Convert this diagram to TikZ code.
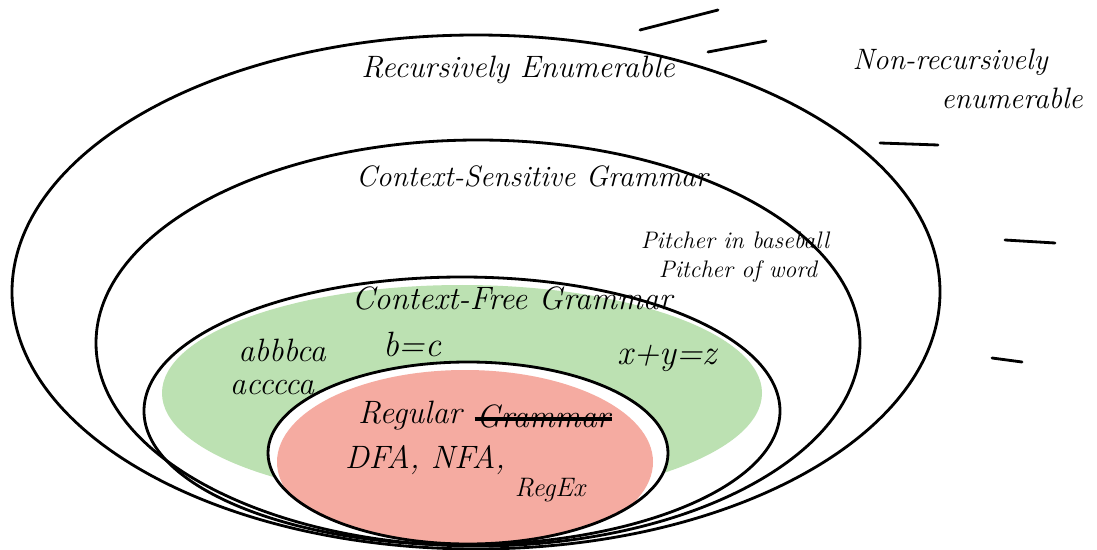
\documentclass[tikz,border=0pt]{standalone}
\usepackage{tikz}
\usetikzlibrary{positioning}
\definecolor{cfgreen}{HTML}{BCE1B2}
\definecolor{regred}{HTML}{F5ABA1}
\tikzset{
  rim/.style={draw=black,line width=2pt},
  note/.style={font=\fontsize{#1}{#1}\selectfont\itshape,inner sep=1pt},
  note/.default=22,
  tick/.style={line width=2pt,line cap=round}
}
\def\outer{(476,292) ellipse [x radius=464, y radius=257]}
\def\csg{(478,343) ellipse [x radius=382, y radius=203]}
\def\cfg{(462,411) ellipse [x radius=318, y radius=134]}
\def\reg{(468,453) ellipse [x radius=200, y radius=91]}

\begin{document}
\begin{tikzpicture}[x=0.025cm,y=-0.025cm]
  \clip (0,0) rectangle (1097,550);
  \fill[white] (0,0) rectangle (1097,550);
  % shading
  \begin{scope}
    \clip \cfg;
    \fill[cfgreen] (462,393) ellipse [x radius=300, y radius=108];
  \end{scope}
  \fill[white] \reg;
  \begin{scope}
    \clip \reg;
    \fill[regred] (465,462) ellipse [x radius=188, y radius=92];
  \end{scope}
  % sets
  \draw[rim] \outer;
  \draw[rim] \csg;
  \draw[rim] \cfg;
  \draw[rim] \reg;
  % outside marks
  \draw[tick] (640,30) -- (718,10);
  \draw[tick] (708,52) -- (766,41);
  \draw[tick] (880,143) -- (938,145);
  \draw[tick] (1005,240) -- (1055,243);
  \draw[tick] (992,358) -- (1022,362);
  % labels
  \node[note] (re) at (518,70) {Recursively Enumerable};
  \node[note=21] (nonre) at (950,62) {Non-recursively};
  \node[note=21] (nonre2) at (1012,98) {enumerable};
  \node[note=21] (cs) at (532,176) {Context-Sensitive Grammar};
  \node[note=17] (pitch1) at (735,240) {Pitcher in baseball};
  \node[note=17] (pitch2) at (738,272) {Pitcher of word};
  \node[note=23] (cf) at (512,298) {Context-Free Grammar};
  \node[note=23] (ex1) at (282,350) {abbbca};
  \node[note=23] (ex2) at (272,388) {acccca};
  \node[note=25] (ex3) at (412,344) {b=c};
  \node[note=25] (ex4) at (667,358) {x+y=z};
  \node[note=23] (rg) at (410,416) {Regular};
  \node[note=23,right=8pt of rg] (gram) {Grammar};
  \draw[line width=3pt] ([yshift=-2pt]gram.west) -- ([yshift=-2pt]gram.east);
  \node[note=23] (fa) at (425,460) {DFA, NFA,};
  \node[note=19] (rx) at (550,490) {RegEx};
\end{tikzpicture}
\end{document}
